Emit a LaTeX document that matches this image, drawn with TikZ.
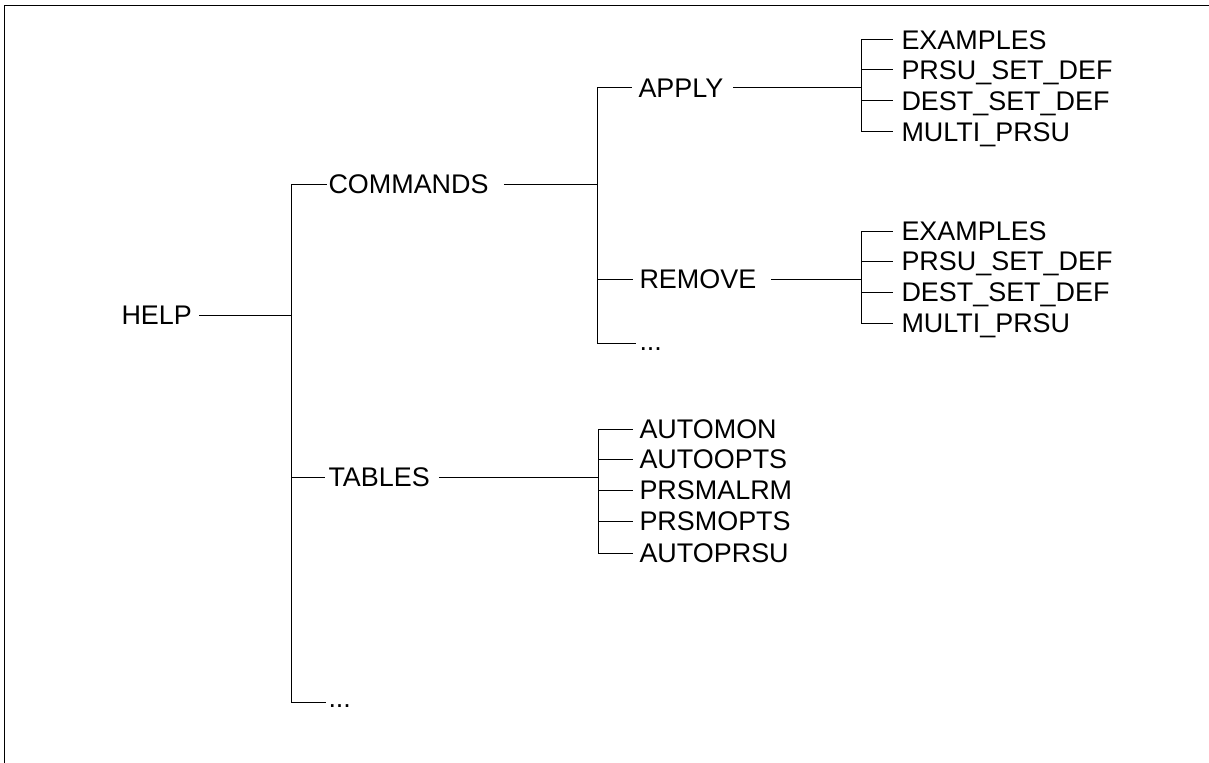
\documentclass[tikz,border=0pt]{standalone}
\usepackage{fontspec}
\setmainfont{Liberation Sans}
\usepackage{tikz}

\tikzset{
    lbl/.style = {inner sep = 0pt, anchor = west, text height = 14.5pt,
        text depth = 0pt, font = \fontsize{20.2pt}{24pt}\selectfont},
    more/.style = {lbl, anchor = base west}
}

\begin{document}
\begin{tikzpicture}[x = 0.75pt, y = -0.75pt, line width = 0.75pt]
        \useasboundingbox (0, 0) rectangle (1209, 763);
        \draw (4, 763) -- (4, 6) -- (1209, 6);

        % labels
        \node[lbl] (help) at (121, 315) {HELP};
        \node[lbl] (commands) at (328, 184) {COMMANDS};
        \node[lbl] (tables) at (328, 477) {TABLES};
        \node[more] (moreA) at (328, 707) {...};

        \node[lbl] (apply) at (638, 88) {APPLY};
        \node[lbl] (remove) at (639, 279) {REMOVE};
        \node[more] (moreB) at (639, 350) {...};

        \node[lbl] (exA) at (901, 40) {EXAMPLES};
        \node[lbl] (psA) at (901, 70) {PRSU\_SET\_DEF};
        \node[lbl] (dsA) at (901, 101) {DEST\_SET\_DEF};
        \node[lbl] (mpA) at (901, 132) {MULTI\_PRSU};

        \node[lbl] (exB) at (901, 231) {EXAMPLES};
        \node[lbl] (psB) at (901, 261) {PRSU\_SET\_DEF};
        \node[lbl] (dsB) at (901, 292) {DEST\_SET\_DEF};
        \node[lbl] (mpB) at (901, 323) {MULTI\_PRSU};

        \node[lbl] (tbA) at (639, 429) {AUTOMON};
        \node[lbl] (tbB) at (639, 459) {AUTOOPTS};
        \node[lbl] (tbC) at (639, 490) {PRSMALRM};
        \node[lbl] (tbD) at (639, 521) {PRSMOPTS};
        \node[lbl] (tbE) at (639, 553) {AUTOPRSU};

        % junctions
        \coordinate (jhelp) at (291, 315);
        \coordinate (endA) at (291, 702);
        \coordinate (jcmd) at (597, 184);
        \coordinate (endB) at (597, 343);
        \coordinate (japply) at (861, 88);
        \coordinate (jremove) at (861, 279);
        \coordinate (jtables) at (598, 477);

        % HELP
        \draw ([xshift = 5pt]help.east) -- (jhelp);
        \draw (jhelp |- commands) -- (endA);
        \draw (jhelp |- commands) -- ([xshift = -0.75pt]commands.west);
        \draw (jhelp |- tables) -- ([xshift = -2.25pt]tables.west);
        \draw (endA) -- ([xshift = -1.5pt]moreA.west |- endA);

        % COMMANDS
        \draw ([xshift = 11pt]commands.east) -- (jcmd);
        \draw (jcmd |- apply) -- (endB);
        \draw (jcmd |- apply) -- ([xshift = -4.5pt]apply.west);
        \draw (jcmd |- remove) -- ([xshift = -4.5pt]remove.west);
        \draw (endB) -- ([xshift = -2.25pt]moreB.west |- endB);

        % APPLY
        \draw ([xshift = 7pt]apply.east) -- (japply);
        \draw (japply |- exA) -- (japply |- mpA);
        \draw (japply |- exA) -- ([xshift = -6pt]exA.west);
        \draw (japply |- psA) -- ([xshift = -6pt]psA.west);
        \draw (japply |- dsA) -- ([xshift = -6pt]dsA.west);
        \draw (japply |- mpA) -- ([xshift = -6pt]mpA.west);

        % REMOVE
        \draw ([xshift = 11pt]remove.east) -- (jremove);
        \draw (jremove |- exB) -- (jremove |- mpB);
        \draw (jremove |- exB) -- ([xshift = -6pt]exB.west);
        \draw (jremove |- psB) -- ([xshift = -6pt]psB.west);
        \draw (jremove |- dsB) -- ([xshift = -6pt]dsB.west);
        \draw (jremove |- mpB) -- ([xshift = -6pt]mpB.west);

        % TABLES
        \draw ([xshift = 6.5pt]tables.east) -- (jtables);
        \draw (jtables |- tbA) -- (jtables |- tbE);
        \draw (jtables |- tbA) -- ([xshift = -4.5pt]tbA.west);
        \draw (jtables |- tbB) -- ([xshift = -4.5pt]tbB.west);
        \draw (jtables |- tbC) -- ([xshift = -4.5pt]tbC.west);
        \draw (jtables |- tbD) -- ([xshift = -4.5pt]tbD.west);
        \draw (jtables |- tbE) -- ([xshift = -4.5pt]tbE.west);
    \end{tikzpicture}
\end{document}
